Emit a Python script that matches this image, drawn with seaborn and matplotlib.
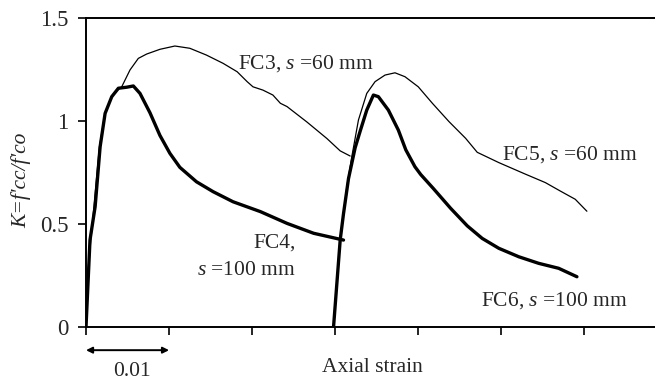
import numpy as np
import pandas as pd
import matplotlib
matplotlib.use("Agg")
import matplotlib.pyplot as plt
import seaborn as sns

# ---- data ----
fc3_strain = [0, 0.0003, 0.0009, 0.0016, 0.0023, 0.0031, 0.0038, 0.0043, 0.0053, 0.0063,
              0.0073, 0.0089, 0.0107, 0.0125, 0.0145, 0.0165, 0.0182, 0.0194, 0.0201,
              0.0213, 0.0225, 0.0234, 0.0242, 0.0266, 0.0290, 0.0306, 0.0318]
fc3_k = [0, 0.30, 0.56, 0.87, 1.04, 1.12, 1.15, 1.166, 1.248, 1.304,
         1.325, 1.348, 1.364, 1.353, 1.320, 1.280, 1.239, 1.191, 1.166,
         1.150, 1.126, 1.086, 1.070, 0.995, 0.915, 0.855, 0.830]

fc4_strain = [0, 0.00048, 0.0011, 0.0017, 0.0023, 0.0031, 0.0039, 0.0049, 0.0057, 0.0065,
              0.0077, 0.0089, 0.0101, 0.0113, 0.0133, 0.0153, 0.0177, 0.0210, 0.0242,
              0.0274, 0.0310]
fc4_k = [0, 0.422, 0.584, 0.875, 1.037, 1.118, 1.159, 1.164, 1.170, 1.134,
         1.040, 0.930, 0.843, 0.775, 0.705, 0.657, 0.608, 0.560, 0.503,
         0.455, 0.422]

fc5_strain = [0.0298, 0.0306, 0.0314, 0.0320, 0.0328, 0.0338, 0.0348, 0.0360, 0.0372,
              0.0384, 0.0400, 0.0417, 0.0437, 0.0457, 0.0471, 0.0497, 0.0529, 0.0553,
              0.0571, 0.0589, 0.0603]
fc5_k = [0, 0.42, 0.68, 0.827, 1.005, 1.134, 1.191, 1.223, 1.234,
         1.215, 1.166, 1.086, 0.997, 0.916, 0.848, 0.798, 0.742, 0.701,
         0.660, 0.620, 0.562]

fc6_strain = [0.0298, 0.0306, 0.0310, 0.0316, 0.0324, 0.0330, 0.0338, 0.0346, 0.0352,
              0.0364, 0.0376, 0.0385, 0.0396, 0.0403, 0.0418, 0.0439, 0.0459, 0.0477,
              0.0497, 0.0521, 0.0545, 0.0569, 0.0591]
fc6_k = [0, 0.422, 0.55, 0.72, 0.87, 0.95, 1.053, 1.126, 1.118,
         1.053, 0.956, 0.86, 0.778, 0.74, 0.673, 0.576, 0.491, 0.430,
         0.382, 0.341, 0.309, 0.285, 0.244]

y_ticks = [0, 0.5, 1, 1.5]
y_tick_labels = ["0", "0.5", "1", "1.5"]
x_ticks = [0, 0.01, 0.02, 0.03, 0.04, 0.05, 0.06]

sns.set_theme(style="white")
plt.rcParams["font.family"] = ["Liberation Serif", "DejaVu Serif"]
plt.rcParams["mathtext.fontset"] = "custom"
plt.rcParams["mathtext.rm"] = "Liberation Serif"
plt.rcParams["mathtext.it"] = "Liberation Serif:italic"

fig = plt.figure(figsize=(6.55, 3.82), dpi=100)
ax = fig.add_axes([86 / 655, 1 - 327 / 382, 1 - 86 / 655, (327 - 18) / 382])

series = [("FC3", fc3_strain, fc3_k, 0.9),
          ("FC4", fc4_strain, fc4_k, 2.4),
          ("FC5", fc5_strain, fc5_k, 0.9),
          ("FC6", fc6_strain, fc6_k, 2.4)]
for name, xs, ks, lw in series:
    df = pd.DataFrame({"strain": xs, "K": ks})
    sns.lineplot(data=df, x="strain", y="K", sort=False, estimator=None,
                 color="black", linewidth=lw, ax=ax)

fs = 15.5
ax.set_xlim(0, 0.0685)
ax.set_ylim(0, 1.5)
ax.set_xticks(x_ticks)
ax.set_xticklabels([])
ax.set_yticks(y_ticks)
ax.set_yticklabels(y_tick_labels, fontsize=16.5)
ax.tick_params(axis="both", direction="out", length=5.5, width=1.2, color="black",
               bottom=True, left=True, pad=7)
for s in ["left", "bottom", "top"]:
    ax.spines[s].set_visible(True)
    ax.spines[s].set_color("black")
    ax.spines[s].set_linewidth(1.4)
ax.spines["right"].set_visible(False)
ax.set_xlabel("")
ax.set_ylabel("")

fig.text(21 / 655, 1 - 180 / 382, "K=f'cc/f'co", rotation=90, fontsize=fs,
         fontstyle="italic", ha="center", va="center")
fig.text(372 / 655, 1 - 368 / 382, "Axial strain", fontsize=fs, ha="center", va="center")

# scale arrow 0 -> 0.01 under axis
ax.annotate("", xy=(0, -0.075), xytext=(0.01, -0.075), xycoords=("data", "axes fraction"),
            textcoords=("data", "axes fraction"),
            arrowprops=dict(arrowstyle="<|-|>", color="black", lw=1.4,
                            mutation_scale=9, shrinkA=0, shrinkB=0), annotation_clip=False)
ax.text(0.0055, -0.145, "0.01", transform=ax.get_xaxis_transform(), fontsize=fs,
        ha="center", va="center", clip_on=False)

ax.text(0.0183, 1.28, "FC3, $\\mathit{s}$ =60 mm", fontsize=fs, ha="left", va="center")
ax.text(0.0252, 0.407, "FC4,", fontsize=fs, ha="right", va="center")
ax.text(0.0252, 0.276, "$\\mathit{s}$ =100 mm", fontsize=fs, ha="right", va="center")
ax.text(0.0501, 0.835, "FC5, $\\mathit{s}$ =60 mm", fontsize=fs, ha="left", va="center")
ax.text(0.0475, 0.13, "FC6, $\\mathit{s}$ =100 mm", fontsize=fs, ha="left", va="center")

fig.savefig("out.png", dpi=100)
